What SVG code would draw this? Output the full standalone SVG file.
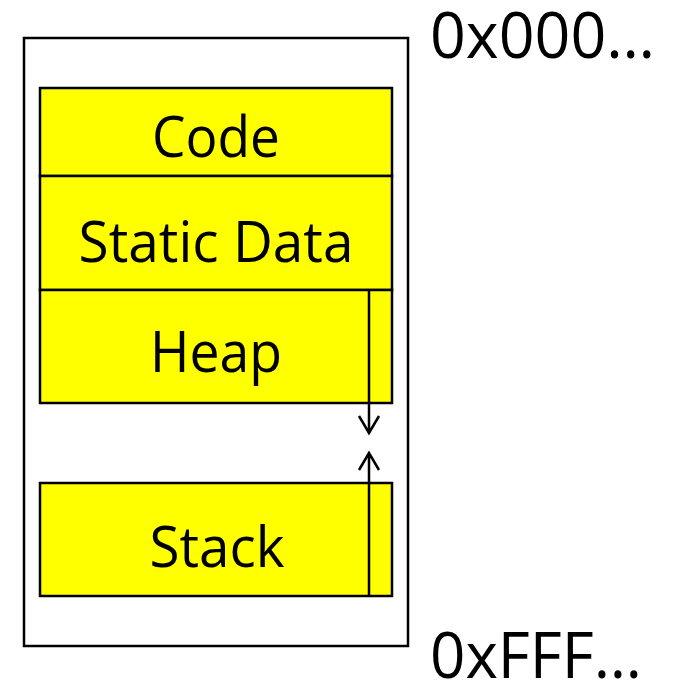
<svg xmlns="http://www.w3.org/2000/svg" width="681" height="683" viewBox="0 0 681 683">
<style>
.box{fill:#ffff00;stroke:#000;stroke-width:2.5}
.outer{fill:#fff;stroke:#000;stroke-width:2.5}
.lbl{font-family:"Open Sans","Noto Sans",sans-serif;font-size:56px;fill:#000;text-anchor:middle}
.addr{font-family:"Open Sans","Noto Sans",sans-serif;font-size:64px;fill:#000}
.conn{stroke:#000;stroke-width:2.5;fill:none}
</style>
<rect class="outer" x="24" y="38" width="384" height="608"/>
<g id="code"><rect class="box" x="40" y="88" width="352" height="88"/><text class="lbl" x="216" y="157" textLength="128" lengthAdjust="spacingAndGlyphs">Code</text></g>
<g id="static"><rect class="box" x="40" y="176" width="352" height="114"/><text class="lbl" x="216" y="262" textLength="275" lengthAdjust="spacingAndGlyphs">Static Data</text></g>
<g id="heap"><rect class="box" x="40" y="290" width="352" height="113"/><text class="lbl" x="216" y="372" textLength="132" lengthAdjust="spacingAndGlyphs">Heap</text></g>
<g id="stack"><rect class="box" x="40" y="483" width="352" height="113"/><text class="lbl" x="217" y="567" textLength="135" lengthAdjust="spacingAndGlyphs">Stack</text></g>
<g id="addr-low"><text class="addr" x="430" y="58" textLength="225" lengthAdjust="spacingAndGlyphs">0x000…</text></g>
<g id="addr-high"><text class="addr" x="430" y="678" textLength="212" lengthAdjust="spacingAndGlyphs">0xFFF…</text></g>
<g id="connectors">
<path class="conn" d="M369 290 V433 M359 416 L369 433 L379 416"/>
<path class="conn" d="M369 596 V453 M359 470 L369 453 L379 470"/>
</g>
</svg>
